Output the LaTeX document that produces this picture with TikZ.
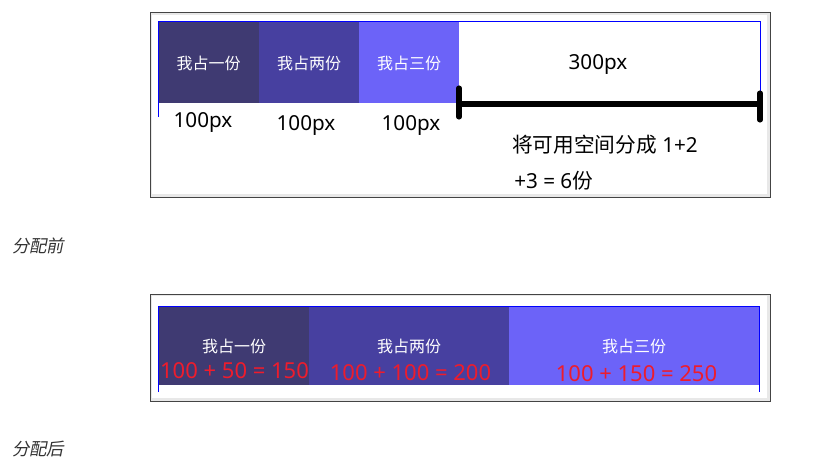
\documentclass[tikz,border=0pt]{standalone}
\usepackage{fontspec}
\setmainfont{Noto Sans}
\newfontfamily\cjk{Noto Sans CJK SC}
\newfontfamily\capfont[FakeSlant=0.2]{Noto Sans CJK SC}
\definecolor{cone}{HTML}{3F3A72}
\definecolor{ctwo}{HTML}{4740A0}
\definecolor{cthree}{HTML}{6C63F8}
\definecolor{frameg}{HTML}{444444}
\definecolor{bandg}{HTML}{E8E8E8}
\definecolor{redtxt}{HTML}{EE1C2C}
\definecolor{capg}{HTML}{333333}
\tikzset{
  itemtxt/.style={text=white,font=\cjk\fontsize{12}{12}\selectfont,inner sep=0pt},
  pxtxt/.style={text=black,font=\fontsize{15.5}{15.5}\selectfont,inner sep=0pt},
  redlab/.style={text=redtxt,font=\fontsize{16.5}{16.5}\selectfont,inner sep=0pt},
  captxt/.style={text=capg,font=\capfont\fontsize{13}{13}\selectfont,inner sep=0pt,anchor=west},
  panel/.style={draw=frameg,fill=bandg,line width=0.75pt},
  bluel/.style={draw=blue,line width=0.75pt},
  bar/.style={line width=3.8pt,line cap=round,draw=black}
}
\begin{document}
\begin{tikzpicture}[x=0.75pt,y=-0.75pt]
\useasboundingbox (0,0) rectangle (832,460);
% ---------- top panel ----------
\draw[panel] (150,13) rectangle (770,197);
\fill[white] (152,15) rectangle (767,194);
\fill[cone] (158,22) rectangle (259,103);
\fill[ctwo] (259,22) rectangle (359,103);
\fill[cthree] (359,22) rectangle (459,103);
\draw[bluel] (158,117) -- (158,22) -- (760,22) -- (760,96);
\node[itemtxt] (a1) at (208.5,63) {我占一份};
\node[itemtxt] (a2) at (309,63) {我占两份};
\node[itemtxt] (a3) at (409,63) {我占三份};
\node[pxtxt] (p1) at (203,122) {100px};
\node[pxtxt] (p2) at (306,125) {100px};
\node[pxtxt] (p3) at (411,125) {100px};
\node[pxtxt] (p4) at (598,64) {300px};
\coordinate (bl) at (459,104);
\coordinate (br) at (760,104);
\coordinate (blt) at (459,88);
\coordinate (blb) at (459,117);
\coordinate (brt) at (760,93);
\coordinate (brb) at (760,120);
\draw[bar] (bl) -- (br);
\draw[bar] (blt) -- (blb);
\draw[bar] (brt) -- (brb);
\node[pxtxt,anchor=west] (t1) at (512,145) {{\cjk 将可用空间分成} 1+2};
\node[pxtxt,anchor=west] (t2) at (514,181) {+3 = 6{\cjk 份}};
\node[captxt] (c1) at (12,245.5) {分配前};
% ---------- bottom panel ----------
\draw[panel] (150,294) rectangle (770,401);
\fill[white] (152,296) rectangle (767,398);
\fill[cone] (158,306) rectangle (309,385);
\fill[ctwo] (309,306) rectangle (509,385);
\fill[cthree] (509,306) rectangle (759,385);
\draw[bluel] (158,392) -- (158,306) -- (759,306) -- (759,392);
\node[itemtxt] (b1) at (234,346.5) {我占一份};
\node[itemtxt] (b2) at (409,346.5) {我占两份};
\node[itemtxt] (b3) at (634,346.5) {我占三份};
\node[redlab] (r1) at (234.5,370.5) {100 + 50 = 150};
\node[redlab] (r2) at (410.5,373) {100 + 100 = 200};
\node[redlab] (r3) at (636.5,373.5) {100 + 150 = 250};
\node[captxt] (c2) at (12,449.5) {分配后};
\end{tikzpicture}
\end{document}
